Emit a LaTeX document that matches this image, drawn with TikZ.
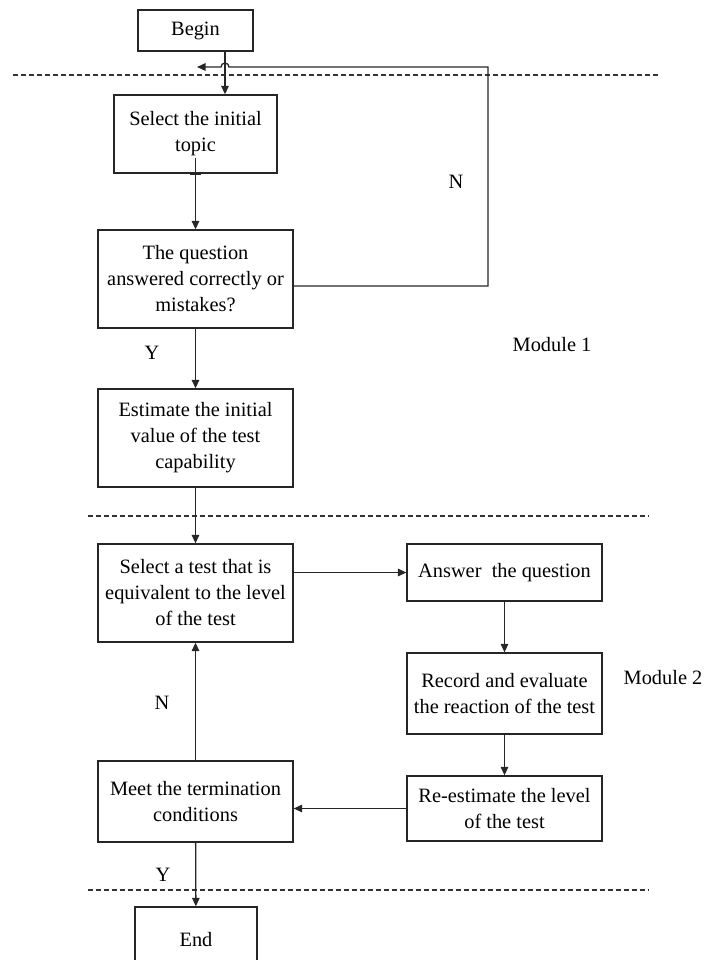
\documentclass[tikz,border=0pt]{standalone}
\usepackage{fontspec}
\setmainfont{Liberation Serif}
\usetikzlibrary{arrows.meta}

\newcommand{\boxfont}{\fontsize{11.6}{14.8}\selectfont}
\tikzstyle{block} = [rectangle, inner sep=0pt, align=center, text centered,
draw=black!85, line width=0.75pt, font=\boxfont]
\tikzstyle{label} = [inner sep=0pt, font=\boxfont]
\tikzstyle{arrow} = [line width=0.75pt, draw=black!85,
-{Triangle[length=0.17cm,width=0.15cm]}]
\tikzstyle{line} = [line width=0.75pt, draw=black!85]
\tikzstyle{sep} = [line width=0.6pt, draw=black!80, dash pattern=on 0.1cm off 0.06cm]

\begin{document}
\begin{tikzpicture}[x=0.02cm, y=-0.02cm]
    \useasboundingbox (0,0) rectangle (704,960);

    \node (begin) [block, minimum width=2.3cm, minimum height=0.82cm] at (195.5,30.5) {Begin};
    \node (sel) [block, minimum width=3.26cm, minimum height=1.56cm] at (195.5,134) {Select the initial\\topic};
    \node (ques) [block, minimum width=3.9cm, minimum height=1.96cm] at (195.5,279) {The question\\answered correctly or\\mistakes?};
    \node (est) [block, minimum width=3.9cm, minimum height=1.96cm] at (195.5,438) {Estimate the initial\\value of the test\\capability};
    \node (seltest) [block, minimum width=3.9cm, minimum height=1.96cm] at (195.5,593) {Select a test that is\\equivalent to the level\\of the test};
    \node (ans) [block, minimum width=3.9cm, minimum height=1.14cm] at (504.5,572.5) {Answer\ \ the question};
    \node (rec) [block, minimum width=3.9cm, minimum height=1.62cm] at (504.5,693.5) {Record and evaluate\\the reaction of the test};
    \node (reest) [block, minimum width=3.9cm, minimum height=1.3cm] at (504.5,808.5) {Re-estimate the level\\of the test};
    \node (meet) [block, minimum width=3.9cm, minimum height=1.62cm] at (195.5,801.5) {Meet the termination\\conditions};
    \node (end) [block, minimum width=2.44cm, minimum height=1.32cm] at (196,940) {End};

    \node (n1) [label] at (456,182) {N};
    \node (y1) [label] at (152,353) {Y};
    \node (mod1) [label] at (552,345) {Module 1};
    \node (mod2) [label] at (663,678) {Module 2};
    \node (n2) [label] at (162,703) {N};
    \node (y2) [label] at (163,875) {Y};

    \coordinate (loopright) at (488,67);
    \coordinate (hop) at (229,67);
    \coordinate (loopend) at (197,67);

    \draw [sep] (13,75) -- (658,75);
    \draw [sep] (88,516) -- (648,516);
    \draw [sep] (88,890) -- (648,890);

    \draw [arrow] ([xshift=0.59cm]begin.south) -- ([xshift=0.59cm]begin.south |- sel.north);
    \draw [arrow] ([yshift=-0.14cm]ques.east) -| (loopright) -- (hop)
        arc[start angle=0, end angle=180, radius=0.08cm] -- (loopend);
    \draw [arrow] ([yshift=0.32cm]sel.south) -- (ques.north);
    \draw [line, line width=1.4pt] ([xshift=-0.11cm]sel.south) -- ([xshift=0.11cm]sel.south);
    \draw [arrow] (ques) -- (est);
    \draw [arrow] (est) -- (seltest);
    \draw [arrow] (seltest.east |- ans.west) -- (ans.west);
    \draw [arrow] (ans) -- (rec);
    \draw [arrow] (rec) -- (reest);
    \draw [arrow] (reest.west) -- (meet.east |- reest.west);
    \draw [arrow] (meet) -- (seltest);
    \draw [arrow] (meet) -- (end);
\end{tikzpicture}
\end{document}
